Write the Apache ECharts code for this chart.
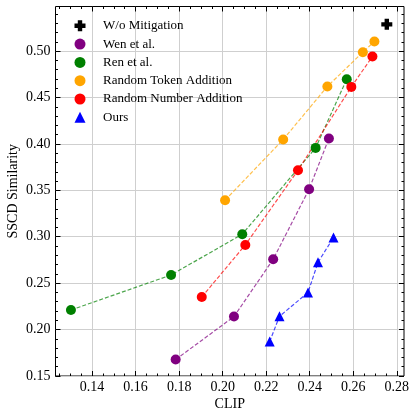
<!DOCTYPE html>
<html>
<head>
<meta charset="utf-8">
<script src="https://cdn.jsdelivr.net/npm/echarts@6/dist/echarts.min.js"></script>
<style>
  html, body { margin: 0; padding: 0; background: #fff; }
  #chart { width: 411px; height: 409px; }
</style>
</head>
<body>
<div id="chart"></div>
<script>
// data (CLIP, SSCD similarity)
const noMitigation = [[0.2754, 0.5288]]
const wen = [[0.1784, 0.1677], [0.2052, 0.2140], [0.2232, 0.2757], [0.2397, 0.3512], [0.2488, 0.4058]]
const ren = [[0.1303, 0.2211], [0.1763, 0.2588], [0.2090, 0.3027], [0.2427, 0.3957], [0.2570, 0.4697]]
const randomToken = [[0.2011, 0.3393], [0.2278, 0.4047], [0.2481, 0.4619], [0.2644, 0.4988], [0.2697, 0.5103]]
const randomNumber = [[0.1904, 0.2351], [0.2104, 0.2912], [0.2346, 0.3716], [0.2591, 0.4614], [0.2688, 0.4942]]
const ours = [[0.2216, 0.1871], [0.2261, 0.2143], [0.2392, 0.2399], [0.2438, 0.2725], [0.2509, 0.2991]]

const xTicks = [0.14, 0.16, 0.18, 0.20, 0.22, 0.24, 0.26, 0.28]
const yTicks = [0.15, 0.20, 0.25, 0.30, 0.35, 0.40, 0.45, 0.50]
const xRange = [0.1232, 0.2833]
const yRange = [0.15, 0.548]

// minor ticks: 4 per x step, 5 per y step
const minorTicks = (lo, hi, step) => {
  const out = []
  const start = Math.ceil(lo / step - 1e-6)
  for (let i = start; i * step <= hi + 1e-9; i++) out.push(+(i * step).toFixed(4))
  return out
}
const xMinor = minorTicks(xRange[0], xRange[1], 0.005)
const yMinor = minorTicks(yRange[0], yRange[1], 0.01)

const FONT = '"Liberation Serif", "DejaVu Serif", serif'
const crossPath = 'path://M1.5,0H3.5V1.5H5V3.5H3.5V5H1.5V3.5H0V1.5H1.5Z'

const chart = echarts.init(document.getElementById('chart'))

const axisBase = (range) => ({
  type: 'value',
  min: range[0],
  max: range[1],
  axisLine: { show: false },
  splitLine: { show: false },
  axisLabel: { show: false },
})

const xAxisFor = (position, ticks, len, labels) => ({
  ...axisBase(xRange),
  position,
  axisTick: { show: true, inside: true, length: len, customValues: ticks, lineStyle: { color: '#000', width: 1 } },
  axisLabel: labels
    ? { show: true, customValues: ticks, formatter: (v) => v.toFixed(2), color: '#000', fontFamily: FONT, fontSize: 14, margin: 4 }
    : { show: false },
})

const yAxisFor = (position, ticks, len, labels) => ({
  ...axisBase(yRange),
  position,
  axisTick: { show: true, inside: true, length: len, customValues: ticks, lineStyle: { color: '#000', width: 1 } },
  axisLabel: labels
    ? { show: true, customValues: ticks, formatter: (v) => v.toFixed(2), color: '#000', fontFamily: FONT, fontSize: 14, margin: 5 }
    : { show: false },
})

const lineSeries = (name, data, color, symbol) => ({
  name,
  type: 'line',
  data,
  symbol,
  symbolSize: 10,
  itemStyle: { color },
  lineStyle: { color, width: 1.2, type: [4, 2], opacity: 0.7 },
  emphasis: { disabled: true },
})

const option = {
  animation: false,
  grid: {
    left: 55.5, right: 7, top: 6.5, bottom: 33,
    containLabel: false, outerBoundsMode: 'none',
    show: true, borderColor: '#000', borderWidth: 1, backgroundColor: 'transparent',
  },
  legend: {
    orient: 'vertical',
    left: 69.5,
    top: 14.3,
    itemWidth: 11,
    itemHeight: 11,
    itemGap: 5.3,
    symbolKeepAspect: true,
    textStyle: { fontFamily: FONT, fontSize: 13, color: '#000', padding: [0, 0, 0, 12.5] },
    data: [
      { name: 'W/o Mitigation', icon: crossPath },
      { name: 'Wen et al.', icon: 'circle' },
      { name: 'Ren et al.', icon: 'circle' },
      { name: 'Random Token Addition', icon: 'circle' },
      { name: 'Random Number Addition', icon: 'circle' },
      { name: 'Ours', icon: 'triangle' },
    ],
  },
  xAxis: [
    {
      ...xAxisFor('bottom', xTicks, 5, true),
      name: 'CLIP',
      nameLocation: 'middle',
      nameGap: 21,
      nameMoveOverlap: false,
      nameTextStyle: { fontFamily: FONT, fontSize: 14, color: '#000' },
      splitLine: { show: true, lineStyle: { color: '#cfcfcf', width: 1 } },
    },
    xAxisFor('bottom', xMinor, 2.5, false),
    xAxisFor('top', xTicks, 5, false),
    xAxisFor('top', xMinor, 2.5, false),
  ],
  yAxis: [
    {
      ...yAxisFor('left', yTicks, 5, true),
      name: 'SSCD Similarity',
      nameLocation: 'middle',
      nameGap: 35,
      nameMoveOverlap: false,
      nameTextStyle: { fontFamily: FONT, fontSize: 14, color: '#000' },
      splitLine: { show: true, lineStyle: { color: '#cfcfcf', width: 1 } },
    },
    yAxisFor('left', yMinor, 2.5, false),
    yAxisFor('right', yTicks, 5, false),
    yAxisFor('right', yMinor, 2.5, false),
  ],
  series: [
    {
      name: 'W/o Mitigation',
      type: 'scatter',
      data: noMitigation,
      symbol: crossPath,
      symbolSize: 11,
      itemStyle: { color: '#000', opacity: 1 },
      emphasis: { disabled: true },
    },
    lineSeries('Wen et al.', wen, '#800080', 'circle'),
    lineSeries('Ren et al.', ren, '#008000', 'circle'),
    lineSeries('Random Token Addition', randomToken, '#ffa500', 'circle'),
    lineSeries('Random Number Addition', randomNumber, '#ff0000', 'circle'),
    lineSeries('Ours', ours, '#0000ff', 'triangle'),
  ],
}

chart.setOption(option)
</script>
</body>
</html>
